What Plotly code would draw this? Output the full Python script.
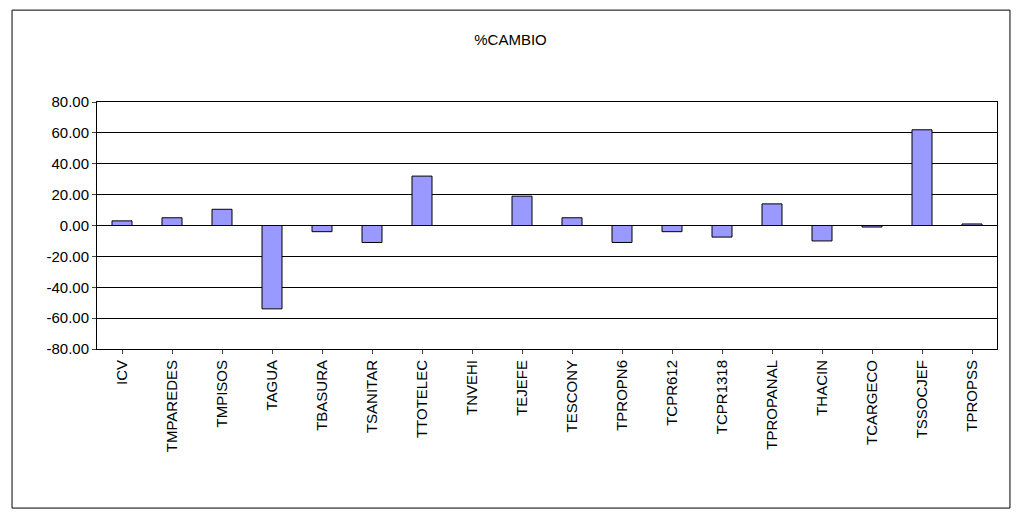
import plotly.graph_objects as go

categories = ["ICV","TMPAREDES","TMPISOS","TAGUA","TBASURA","TSANITAR","TTOTELEC","TNVEHI","TEJEFE","TESCONY","TPROPN6","TCPR612","TCPR1318","TPROPANAL","THACIN","TCARGECO","TSSOCJEF","TPROPSS"]
values = [3, 5, 10.5, -54, -4, -11, 32, 0, 19, 5, -11, -4, -7.5, 14, -10, -1, 62, 1]
tickvals = [80, 60, 40, 20, 0, -20, -40, -60, -80]

fig = go.Figure(go.Bar(x=categories, y=values, marker=dict(color="#9999FF", line=dict(color="black", width=1)), width=0.4))
fig.update_layout(
    width=1005, height=501, paper_bgcolor="white", plot_bgcolor="white",
    margin=dict(l=89, r=16, t=94, b=160, autoexpand=False),
    font=dict(family="Arial, Liberation Sans", size=15, color="black"),
    title=dict(text="%CAMBIO", x=0.5, xanchor="center", y=0.936, yanchor="middle", font=dict(size=15)),
    showlegend=False,
    shapes=[dict(type="rect", xref="paper", yref="paper", x0=-0.0944, x1=1.0144, y0=-0.644, y1=1.372, line=dict(color="black", width=1))],
)
fig.update_yaxes(range=[-80, 80], tickvals=tickvals, ticktext=[f"{v:.2f}" for v in tickvals],
                 showgrid=True, gridcolor="black", gridwidth=1, zeroline=False, automargin=False,
                 showline=True, linecolor="black", mirror=True, ticks="outside", ticklen=4)
fig.update_xaxes(tickangle=-90, showline=True, linecolor="black", mirror=True, ticks="outside", ticklen=4, automargin=False)
fig.write_html("out.html")
